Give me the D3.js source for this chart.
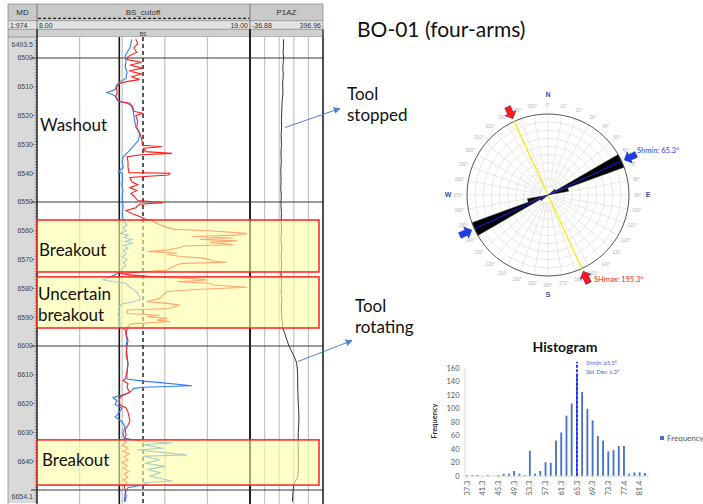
<!DOCTYPE html>
<html>
<head>
<meta charset="utf-8">
<script src="https://cdn.jsdelivr.net/npm/d3@7"></script>
<style>
  body { margin: 0; background: #fff; }
  svg { display: block; }
</style>
</head>
<body>
<svg id="chart" width="703" height="504"></svg>
<script>
// ---------------- data ----------------
// calipers (depth m, inches)
const cal1 = [
  [6493.5, 13.1], [6495, 13.2], [6496.5, 13.0], [6498, 13.15], [6499.5, 12.7], [6500.5, 12.65],
  [6501.5, 13.4], [6502.5, 12.8], [6503.5, 13.45], [6504.5, 12.75], [6505.5, 13.4], [6506.5, 12.9],
  [6507.5, 13.3], [6508.2, 12.6], [6509, 12.2], [6510.5, 12.1], [6512, 12.15], [6513.5, 12.05],
  [6515, 12.2], [6515.7, 12.8], [6517, 12.95], [6518.5, 13.0], [6519.2, 13.45], [6520, 13.1],
  [6522, 13.2], [6524, 13.15], [6526, 13.3], [6528, 13.4], [6530.3, 13.45], [6530.8, 14.46],
  [6531.3, 13.5], [6532.5, 13.6], [6533.1, 14.97], [6533.6, 13.4], [6534.3, 12.65], [6536, 12.7],
  [6538, 12.7], [6539.8, 12.75], [6540, 14.87], [6540.6, 14.8], [6541.5, 12.8], [6543, 12.9],
  [6544, 13.2], [6545, 12.8], [6546, 13.15], [6547, 12.85], [6548, 13.0], [6549.5, 13.2],
  [6550.2, 14.5], [6550.8, 13.3], [6552, 13.1], [6553, 12.6], [6554, 12.9], [6555, 13.3],
  [6556, 13.6], [6556.25, 13.85], [6557.5, 14.2], [6558.8, 14.7], [6559.5, 15.13], [6560, 16.9],
  [6560.9, 18.83], [6561.5, 18.33], [6562, 16.0], [6562.5, 18.12], [6563, 16.42], [6563.5, 18.33],
  [6564, 16.94], [6564.8, 18.12], [6565.3, 15.6], [6565.8, 15.39], [6566.7, 14.71], [6567.2, 13.7],
  [6567.8, 15.23], [6568.2, 14.71], [6568.9, 15.39], [6569.4, 16.42], [6570, 16.94], [6570.5, 17.09],
  [6570.9, 17.81], [6571.3, 15.54], [6571.8, 15.23], [6572.5, 15.02], [6573.6, 14.71], [6574.2, 13.48],
  [6574.8, 12.29], [6575.3, 12.8], [6576, 14.0], [6576.6, 16.1], [6577.1, 16.78], [6577.7, 15.23],
  [6578.2, 16.94], [6578.8, 17.09], [6579.6, 18.85], [6580.3, 16.42], [6581.1, 14.71], [6582.3, 14.51],
  [6583.4, 14.35], [6584.6, 13.68], [6585.2, 14.71], [6585.8, 15.39], [6586.4, 15.02], [6587, 14.87],
  [6587.5, 12.65], [6588.7, 12.65], [6589.3, 14.35], [6589.8, 13.68], [6590.4, 14.71], [6591, 14.2],
  [6591.5, 14.87], [6591.9, 13.84], [6592.4, 12.8], [6593.9, 12.65], [6596, 12.6], [6598, 12.7],
  [6600, 12.65], [6603, 12.6], [6606, 12.7], [6609, 12.65], [6611.5, 12.55], [6612, 12.44],
  [6613, 12.7], [6614.5, 12.65], [6616, 12.8], [6617.6, 12.3], [6619, 12.25], [6620.5, 12.29],
  [6621.5, 12.6], [6623, 12.7], [6624.5, 12.75], [6626, 12.8], [6627.5, 12.7], [6629, 12.55],
  [6631, 12.6], [6632.5, 12.5], [6633.5, 12.6], [6634.5, 12.4], [6635.5, 12.7], [6636.5, 12.45],
  [6637.5, 12.75], [6638.5, 12.5], [6639.5, 12.7], [6640.5, 12.4], [6641.5, 12.65], [6642.5, 12.45],
  [6643.5, 12.75], [6644.5, 12.5], [6645.5, 12.7], [6646.5, 12.45], [6647.5, 12.65], [6648.5, 12.5],
  [6650, 12.55], [6652, 12.6], [6654.1, 12.55]
];
const cal2 = [
  [6493.5, 12.9], [6495, 12.85], [6496.5, 12.8], [6498, 12.65], [6499.5, 12.55], [6501, 12.6],
  [6503, 12.55], [6505, 12.65], [6507, 12.6], [6508.2, 12.3], [6509.5, 12.1], [6511, 12.03],
  [6512, 11.6], [6512.7, 11.9], [6513.5, 12.1], [6514.5, 12.13], [6515.2, 12.3], [6515.7, 12.65],
  [6516.5, 12.85], [6518, 12.95], [6520, 13.0], [6522, 13.05], [6524, 13.1], [6525, 13.2],
  [6526.5, 13.3], [6528.5, 13.25], [6530.8, 12.96], [6532, 12.8], [6533, 12.65], [6534.3, 12.45],
  [6536, 12.4], [6538, 12.45], [6539.5, 12.2], [6540, 12.4], [6542, 12.42], [6544, 12.38],
  [6546, 12.44], [6548, 12.4], [6550, 12.42], [6552, 12.45], [6554, 12.4], [6556, 12.45],
  [6557, 12.5], [6558, 12.65], [6559, 12.45], [6560, 12.6], [6560.9, 12.3], [6561.5, 12.7],
  [6562.3, 12.5], [6563, 12.9], [6563.7, 12.55], [6564.4, 12.96], [6565, 12.5], [6566, 12.7],
  [6567, 12.45], [6568, 12.6], [6569, 12.4], [6570, 12.65], [6571, 12.45], [6572, 12.6],
  [6573, 12.4], [6574, 12.35], [6575, 12.1], [6576, 11.8], [6577, 11.41], [6577.6, 11.9],
  [6578.2, 12.6], [6579, 12.7], [6580, 12.9], [6581, 13.1], [6582, 13.2], [6583, 13.3],
  [6584, 13.32], [6584.8, 12.9], [6585.3, 12.44], [6586, 12.3], [6587, 12.2], [6588, 12.25],
  [6589, 12.18], [6590, 12.29], [6591, 12.2], [6592, 12.3], [6593, 12.25], [6594.4, 12.55],
  [6596, 12.6], [6598, 12.65], [6600, 12.6], [6603, 12.65], [6606, 12.7], [6609, 12.65],
  [6611.5, 12.65], [6612.2, 13.48], [6612.8, 14.51], [6613.8, 16.0], [6614.3, 13.48], [6614.8, 12.96],
  [6615.5, 12.91], [6616.5, 12.65], [6617.9, 11.93], [6619, 12.13], [6620.3, 12.03], [6621.6, 12.39],
  [6624.1, 12.13], [6624.6, 12.03], [6626.3, 12.39], [6628, 12.55], [6630.1, 12.44], [6632, 12.5],
  [6633, 13.3], [6633.7, 14.97], [6634.3, 13.48], [6635.5, 14.51], [6636.1, 13.17], [6637.8, 15.75],
  [6638.3, 13.48], [6639.5, 14.35], [6640.7, 13.58], [6641.8, 14.61], [6642.9, 13.68], [6644, 14.35],
  [6645.2, 13.84], [6646.9, 14.97], [6647.5, 13.48], [6648, 13.73], [6648.6, 13.17], [6649.2, 12.7],
  [6651, 12.55], [6654.1, 12.5]
];
// pad 1 azimuth (depth m, degrees)
const p1az = [
  [6493.5, 162], [6496, 162], [6498, 160], [6500, 163], [6503, 158], [6506, 161], [6509, 157],
  [6512, 159], [6515, 154], [6518, 152], [6521, 150], [6524, 151], [6527, 148], [6530, 150],
  [6533, 147], [6536, 149], [6539, 146], [6542, 148], [6545, 146], [6548, 149], [6551, 147],
  [6554, 150], [6557, 148], [6560, 151], [6563, 147], [6566, 152], [6569, 148], [6572, 151],
  [6575, 147], [6578, 152], [6581, 148], [6584, 152], [6587, 149], [6590, 153], [6593, 156],
  [6596, 172], [6600, 195], [6603, 220], [6606, 240], [6610, 246], [6615, 247], [6620, 250],
  [6625, 254], [6630, 250], [6635, 249], [6640, 251], [6645, 248], [6648, 225], [6651, 218],
  [6654.1, 215]
];
const depthLabels = [6500, 6510, 6520, 6530, 6540, 6550, 6560, 6570, 6580, 6590, 6600, 6610, 6620, 6630, 6640];
const depthTop = 6493.5, depthBottom = 6654.1;
const bitSize = 12.25, bsCutoff = 13.475;

const zones = [
  { top: 6556.25, bottom: 6574.3, label: ["Breakout"] },
  { top: 6576, bottom: 6593.75, label: ["Uncertain", "breakout"] },
  { top: 6632.6, bottom: 6648.3, label: ["Breakout"] }
];

// rose diagram (10 degree bins, bidirectional)
const roseStart = [40, 50, 60, 70, 80];
const roseCount = [5, 90, 827, 214, 10];
const shmin = 65.3, shmax = 155.3, stdDev = 6.3;

// histogram of Shmin azimuth
const binLabels = ["37.3", "38.6", "40.0", "41.3", "42.6", "44.0", "45.3", "46.6", "48.0", "49.3",
  "50.6", "52.0", "53.3", "54.6", "56.0", "57.3", "58.6", "60.0", "61.3", "62.6", "64.0", "65.3",
  "66.6", "68.0", "69.3", "70.6", "72.0", "73.3", "74.7", "76.0", "77.4", "78.7", "80.0", "81.4", "82.7"];
const binCounts = [1, 1, 1, 0, 1, 0, 1, 3, 3, 7, 3, 1, 37, 3, 7, 20, 19, 52, 64, 89, 107, 151,
  124, 99, 82, 59, 52, 36, 38, 44, 44, 3, 5, 5, 4];
const freqTicks = [0, 20, 40, 60, 80, 100, 120, 140, 160];

// ---------------- drawing ----------------
const svg = d3.select("#chart");
svg.append("rect").attr("width", 703).attr("height", 504).attr("fill", "#fff");

const y = d3.scaleLinear().domain([depthTop, depthBottom]).range([39.3, 501.8]);
const xCal = d3.scaleLinear().domain([8, 19]).range([37, 250]);
const xAz = d3.scaleLinear().domain([-36.88, 396.96]).range([250, 323]);

const log = svg.append("g");

// depth track
log.append("rect").attr("x", 8).attr("y", 37).attr("width", 29).attr("height", 466).attr("fill", "#d9d9d9");

// header
log.append("rect").attr("x", 8).attr("y", 4).attr("width", 315).attr("height", 16.7).attr("fill", "#c9c9c9");
log.append("rect").attr("x", 8).attr("y", 20.7).attr("width", 315).attr("height", 8.6).attr("fill", "#e2e2e2");
log.append("rect").attr("x", 8).attr("y", 29.3).attr("width", 315).attr("height", 7.7).attr("fill", "#cfcfcf");
[4, 20.7, 29.3, 37].forEach(yy => {
  log.append("line").attr("x1", 8).attr("x2", 323).attr("y1", yy).attr("y2", yy).attr("stroke", "#8a8a8a").attr("stroke-width", 0.8);
});
[37, 250].forEach(xx => {
  log.append("line").attr("x1", xx).attr("x2", xx).attr("y1", 4).attr("y2", 29.3).attr("stroke", "#777").attr("stroke-width", 1);
});
log.append("line").attr("x1", 38).attr("x2", 249).attr("y1", 18.3).attr("y2", 18.3)
  .attr("stroke", "#222").attr("stroke-width", 1.3).attr("stroke-dasharray", "3,2");

const hdr = (txt, x, yy, anchor, size) => log.append("text").attr("x", x).attr("y", yy)
  .attr("text-anchor", anchor).style("font-family", "Liberation Sans, Arial").style("font-size", size + "px")
  .attr("fill", "#333").text(txt);
hdr("MD", 22.5, 15, "middle", 8);
hdr("BS_cutoff", 143, 15, "middle", 8);
hdr("P1AZ", 286.5, 15, "middle", 8);
hdr("1:974", 10, 27.5, "start", 7);
hdr("8.00", 39, 27.5, "start", 7);
hdr("19.00", 248, 27.5, "end", 7);
hdr("-36.88", 252, 27.5, "start", 7);
hdr("396.96", 321, 27.5, "end", 7);
hdr("BS", 143, 35.5, "middle", 5);

// plot area
const plot = log.append("g");
plot.append("rect").attr("x", 37).attr("y", 37).attr("width", 286).attr("height", 466).attr("fill", "#fff");

// vertical grids
[10.2, 12.4, 14.6, 16.8].forEach(v => {
  plot.append("line").attr("x1", xCal(v)).attr("x2", xCal(v)).attr("y1", 37).attr("y2", 504)
    .attr("stroke", "#c4c4c4").attr("stroke-width", 1.3);
});
const azStep = (xAz.domain()[1] - xAz.domain()[0]) / 5;
[1, 2, 3, 4].forEach(k => {
  const v = xAz.domain()[0] + k * azStep;
  plot.append("line").attr("x1", xAz(v)).attr("x2", xAz(v)).attr("y1", 37).attr("y2", 504)
    .attr("stroke", "#c4c4c4").attr("stroke-width", 1.2);
});

// major depth lines
[6500, 6550, 6600, 6650].forEach(d => {
  plot.append("line").attr("x1", 31).attr("x2", 323).attr("y1", y(d)).attr("y2", y(d))
    .attr("stroke", "#3a3a3a").attr("stroke-width", 1.1);
});

// depth ticks and labels
d3.range(6494, 6655, 1).forEach(d => {
  log.append("line").attr("x1", d % 10 === 0 ? 32 : 34.5).attr("x2", 37).attr("y1", y(d)).attr("y2", y(d))
    .attr("stroke", "#666").attr("stroke-width", 0.6);
});
log.selectAll(".dlab").data(depthLabels).join("text").attr("class", "dlab")
  .attr("x", 33).attr("y", d => y(d)).attr("dy", "0.35em").attr("text-anchor", "end")
  .style("font-family", "Liberation Sans, Arial").style("font-size", "7px").attr("fill", "#444")
  .text(d => d);
hdr(String(depthTop), 33, 46.5, "end", 7).attr("fill", "#444");
hdr(String(depthBottom), 33, 499, "end", 7).attr("fill", "#444");

// bit size lines
plot.append("line").attr("x1", xCal(bitSize)).attr("x2", xCal(bitSize)).attr("y1", 37).attr("y2", 504)
  .attr("stroke", "#1a1a1a").attr("stroke-width", 1.6);
plot.append("line").attr("x1", xCal(bsCutoff)).attr("x2", xCal(bsCutoff)).attr("y1", 37).attr("y2", 504)
  .attr("stroke", "#222").attr("stroke-width", 1.5).attr("stroke-dasharray", "4,3");

// curves
const clip = svg.append("clipPath").attr("id", "plotclip");
clip.append("rect").attr("x", 37).attr("y", 37).attr("width", 286).attr("height", 467);
const curves = plot.append("g").attr("clip-path", "url(#plotclip)");
const calLine = d3.line().x(d => xCal(d[1])).y(d => y(d[0]));
const azLine = d3.line().x(d => xAz(d[1])).y(d => y(d[0])).curve(d3.curveMonotoneY);
curves.append("path").datum(p1az).attr("d", azLine).attr("fill", "none").attr("stroke", "#333").attr("stroke-width", 1);
curves.append("path").datum(cal2).attr("d", calLine).attr("fill", "none").attr("stroke", "#2f7fef").attr("stroke-width", 1.1);
curves.append("path").datum(cal1).attr("d", calLine).attr("fill", "none").attr("stroke", "#ff1f1f").attr("stroke-width", 1.1);

// track borders
[[37, 1.5], [250, 2], [323, 1.6]].forEach(([xx, w]) => {
  log.append("line").attr("x1", xx).attr("x2", xx).attr("y1", 29.3).attr("y2", 504).attr("stroke", "#222").attr("stroke-width", w);
});
log.append("line").attr("x1", 8).attr("x2", 8).attr("y1", 4).attr("y2", 504).attr("stroke", "#888").attr("stroke-width", 0.8);
log.append("line").attr("x1", 323).attr("x2", 323).attr("y1", 4).attr("y2", 37).attr("stroke", "#888").attr("stroke-width", 0.8);

// breakout zones
log.selectAll(".zone").data(zones).join("rect").attr("class", "zone")
  .attr("x", 37).attr("y", d => y(d.top)).attr("width", 282).attr("height", d => y(d.bottom) - y(d.top))
  .attr("fill", "rgba(255,255,165,0.6)").attr("stroke", "#ff2020").attr("stroke-width", 1.5);

const callout = (txt, x, yy, size) => svg.append("text").attr("x", x).attr("y", yy)
  .style("font-family", "Lato, 'Open Sans', sans-serif").style("font-size", size + "px").attr("fill", "#111").text(txt);
callout("Washout", 40, 131, 17);
callout("Breakout", 39, 256, 17);
callout("Uncertain", 38, 300, 17);
callout("breakout", 38, 321, 17);
callout("Breakout", 42, 466, 17);

// arrows and notes
const defs = svg.append("defs");
defs.append("marker").attr("id", "ah").attr("viewBox", "0 0 10 10").attr("refX", 9).attr("refY", 5)
  .attr("markerWidth", 7).attr("markerHeight", 7).attr("orient", "auto")
  .append("path").attr("d", "M0,0 L10,5 L0,10 z").attr("fill", "#4f81cd");
svg.append("line").attr("x1", 285).attr("y1", 127.5).attr("x2", 340).attr("y2", 108.5)
  .attr("stroke", "#4f81cd").attr("stroke-width", 1).attr("marker-end", "url(#ah)");
svg.append("line").attr("x1", 298).attr("y1", 361.5).attr("x2", 352).attr("y2", 340.5)
  .attr("stroke", "#4f81cd").attr("stroke-width", 1).attr("marker-end", "url(#ah)");
callout("Tool", 347, 100, 17);
callout("stopped", 347, 121, 17);
callout("Tool", 355, 312, 17);
callout("rotating", 355, 333, 17);
callout("BO-01 (four-arms)", 357, 37, 21);

// ---------------- rose diagram ----------------
const rc = [548, 195], rOuter = 81;
const rose = svg.append("g").attr("transform", `translate(${rc[0]},${rc[1]})`);
const rad = Math.PI / 180;
rose.selectAll(".ring").data(d3.range(1, 10)).join("circle").attr("class", "ring")
  .attr("r", k => k * rOuter / 10).attr("fill", "none").attr("stroke", "#dedede").attr("stroke-width", 0.7);
const compassTicks = d3.range(0, 360, 10);
rose.selectAll(".spoke").data(compassTicks).join("line").attr("class", "spoke")
  .attr("x1", a => 8 * Math.sin(a * rad)).attr("y1", a => -8 * Math.cos(a * rad))
  .attr("x2", a => rOuter * Math.sin(a * rad)).attr("y2", a => -rOuter * Math.cos(a * rad))
  .attr("stroke", "#dedede").attr("stroke-width", 0.7);
rose.selectAll(".dlabel").data(compassTicks).join("text").attr("class", "dlabel")
  .attr("x", a => 90 * Math.sin(a * rad)).attr("y", a => -90 * Math.cos(a * rad))
  .attr("text-anchor", "middle").attr("dy", "0.35em")
  .style("font-family", "Liberation Sans, Arial").style("font-size", "4.5px").attr("fill", "#b5b5b5")
  .text(a => a + "°");

const rScale = d3.scaleLinear().domain([0, d3.max(roseCount)]).range([0, rOuter]);
const petals = [];
roseStart.forEach((s, i) => {
  petals.push({ a0: s, a1: s + 10, c: roseCount[i] });
  petals.push({ a0: s + 180, a1: s + 190, c: roseCount[i] });
});
const arc = d3.arc().innerRadius(0);
rose.selectAll(".petal").data(petals).join("path").attr("class", "petal")
  .attr("d", d => arc({ startAngle: d.a0 * rad, endAngle: d.a1 * rad, outerRadius: rScale(d.c) }))
  .attr("fill", "#000").attr("stroke", "#444").attr("stroke-width", 0.4);

rose.append("circle").attr("r", rOuter).attr("fill", "none").attr("stroke", "#555").attr("stroke-width", 1);

const diam = (a, col, w) => rose.append("line")
  .attr("x1", -rOuter * Math.sin(a * rad)).attr("y1", rOuter * Math.cos(a * rad))
  .attr("x2", rOuter * Math.sin(a * rad)).attr("y2", -rOuter * Math.cos(a * rad))
  .attr("stroke", col).attr("stroke-width", w);
diam(shmax, "#f2f200", 1.3);
diam(shmin, "#1a1aff", 1);

const arrowPath = "M0,-84 L6,-90 L3,-90 L3,-97 L-3,-97 L-3,-90 L-6,-90 Z";
[[shmin, "#1c3cf0", "#10208a"], [shmin + 180, "#1c3cf0", "#10208a"],
 [shmax + 180, "#ff1a1a", "#5a1f60"], [shmax, "#ff1a1a", "#5a1f60"]].forEach(([a, f, s]) => {
  rose.append("path").attr("d", arrowPath).attr("transform", `rotate(${a})`)
    .attr("fill", f).attr("stroke", s).attr("stroke-width", 0.5);
});
[["N", 0], ["E", 90], ["S", 180], ["W", 270]].forEach(([t, a]) => {
  rose.append("text").attr("x", 100 * Math.sin(a * rad)).attr("y", -100 * Math.cos(a * rad))
    .attr("text-anchor", "middle").attr("dy", "0.35em")
    .style("font-family", "Liberation Sans, Arial").style("font-size", "7px").style("font-weight", "bold")
    .attr("fill", "#3b4ba8").text(t);
});
svg.append("text").attr("x", 637).attr("y", 153).style("font-family", "Lato, sans-serif").style("font-size", "7.5px")
  .attr("fill", "#2a3cff").text(`Shmin: ${shmin}°`);
svg.append("text").attr("x", 594).attr("y", 282).style("font-family", "Lato, sans-serif").style("font-size", "7.5px")
  .attr("fill", "#ff2020").text(`SHmax: ${shmax}°`);

// ---------------- histogram ----------------
const hx = d3.scaleBand().domain(binLabels).range([464.5, 647.5]).paddingInner(0.65).paddingOuter(0.325);
const hy = d3.scaleLinear().domain([0, 160]).range([475.7, 367.7]);
const hist = svg.append("g");

hist.append("text").attr("x", 565).attr("y", 352).attr("text-anchor", "middle")
  .style("font-family", "Lato, sans-serif").style("font-size", "14px").style("font-weight", "bold")
  .attr("fill", "#111").text("Histogram");

const yAx = hist.append("g").attr("transform", "translate(464.5,0)")
  .call(d3.axisLeft(hy).tickValues(freqTicks).tickSize(0).tickPadding(5));
yAx.select(".domain").attr("stroke", "#d9d9d9");
yAx.selectAll("text").style("font-family", "Lato, sans-serif").style("font-size", "7.5px").attr("fill", "#595959");

const xAx = hist.append("g").attr("transform", `translate(0,${hy(0)})`)
  .call(d3.axisBottom(hx).tickValues(binLabels.filter((d, i) => i % 3 === 0)).tickSize(3));
xAx.select(".domain").attr("stroke", "#d9d9d9");
xAx.selectAll("line").attr("stroke", "#d9d9d9");
xAx.selectAll("text").attr("transform", "rotate(-90)").attr("x", -5).attr("y", 0).attr("dy", "0.35em")
  .attr("text-anchor", "end").style("font-family", "Lato, sans-serif").style("font-size", "7.5px").attr("fill", "#595959");

hist.selectAll(".bar").data(binCounts).join("rect").attr("class", "bar")
  .attr("x", (d, i) => hx(binLabels[i])).attr("width", hx.bandwidth())
  .attr("y", d => hy(d)).attr("height", d => hy(0) - hy(d)).attr("fill", "#4472c4");

const mx = hx(binLabels[21]) + hx.bandwidth() / 2;
hist.append("line").attr("x1", mx).attr("x2", mx).attr("y1", hy(0)).attr("y2", 362)
  .attr("stroke", "#2424ff").attr("stroke-width", 1.8).attr("stroke-dasharray", "3,1.5");
hist.append("text").attr("x", 586).attr("y", 365).style("font-family", "Lato, sans-serif").style("font-size", "5.5px")
  .attr("fill", "#4a5ae8").text(`Shmin: ${shmin}°`);
hist.append("text").attr("x", 586).attr("y", 374).style("font-family", "Lato, sans-serif").style("font-size", "5.5px")
  .attr("fill", "#4a5ae8").text(`Std. Dev: ${stdDev}°`);

hist.append("text").attr("transform", "translate(437,421) rotate(-90)").attr("text-anchor", "middle")
  .style("font-family", "Lato, sans-serif").style("font-size", "7.5px").style("font-weight", "bold")
  .attr("fill", "#333").text("Frequency");

hist.append("rect").attr("x", 660).attr("y", 436).attr("width", 4).attr("height", 4).attr("fill", "#4472c4");
hist.append("text").attr("x", 667).attr("y", 441).style("font-family", "Lato, sans-serif").style("font-size", "8px")
  .attr("fill", "#595959").text("Frequency");
</script>
</body>
</html>
